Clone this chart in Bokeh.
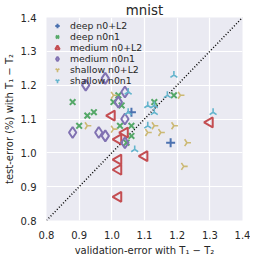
import math
from bokeh.plotting import figure
from bokeh.models import Legend, LegendItem, Range1d, FixedTicker, NumeralTickFormatter
from bokeh.embed import file_html
from bokeh.resources import INLINE

# deep n0+L2
deep_l2_x = [1.06, 1.18]
deep_l2_y = [1.12, 1.03]
# deep n0n1
deep_n1_x = [0.88, 0.925, 0.945, 1.005, 1.02, 1.03, 1.13, 1.19, 0.90, 1.025, 1.06, 1.06, 1.045]
deep_n1_y = [1.15, 1.11, 1.12, 1.15, 1.17, 1.14, 1.15, 1.17, 1.08, 1.08, 1.08, 1.05, 1.03]
# medium n0+L2
med_l2_x = [1.00, 1.30, 1.02, 1.04, 1.02, 1.02, 1.02, 1.10]
med_l2_y = [1.11, 1.09, 1.04, 1.06, 0.98, 0.95, 0.87, 0.99]
# medium n0n1
med_n1_x = [0.88, 0.92, 0.96, 0.98, 0.98, 1.02, 1.04, 1.04, 1.04]
med_n1_y = [1.06, 1.20, 1.06, 1.05, 1.22, 1.15, 1.18, 1.10, 1.03]
# shallow n0+L2
sh_l2_x = [0.925, 1.005, 1.005, 1.11, 1.13, 1.15, 1.19, 1.21, 1.23, 1.22]
sh_l2_y = [1.08, 1.17, 1.07, 1.06, 1.08, 1.06, 1.08, 1.17, 1.03, 0.96]
# shallow n0n1
sh_n1_x = [1.19, 1.17, 1.05, 1.05, 1.11, 1.13, 1.13, 1.31, 1.11, 1.07]
sh_n1_y = [1.23, 1.17, 1.18, 1.12, 1.14, 1.14, 1.12, 1.12, 1.08, 1.01]

ticks = [0.8, 0.9, 1.0, 1.1, 1.2, 1.3, 1.4]
diag = [0.8, 1.4]

BG = "#EAEAF2"
TXT = "#262626"
FONT = "DejaVu Sans"

p = figure(width=250, height=258, output_backend="svg", toolbar_location=None,
           x_range=Range1d(0.8, 1.4), y_range=Range1d(0.8, 1.4),
           min_border_left=31, min_border_right=8, min_border_top=13, min_border_bottom=27,
           title="mnist")
p.background_fill_color = BG
p.border_fill_color = "white"
p.outline_line_color = None
p.title.align = "center"
p.title.text_font = FONT
p.title.text_font_size = "10pt"
p.title.text_font_style = "normal"
p.title.text_color = TXT
p.title.standoff = 0

for ax in (p.xaxis, p.yaxis):
    ax.ticker = FixedTicker(ticks=ticks)
    ax.formatter = NumeralTickFormatter(format="0.0")
    ax.axis_line_color = None
    ax.major_tick_line_color = None
    ax.minor_tick_line_color = None
    ax.major_label_text_font = FONT
    ax.major_label_text_font_size = "7.5pt"
    ax.major_label_text_color = TXT
    ax.axis_label_text_font = FONT
    ax.axis_label_text_font_size = "7.5pt"
    ax.axis_label_text_font_style = "normal"
    ax.axis_label_text_color = TXT
    ax.major_label_standoff = 4
    ax.axis_label_standoff = 3
p.xaxis.axis_label = "validation-error with T\u2081 \u2212 T\u2082"
p.yaxis.axis_label = "test-error (%) with T\u2081 \u2212 T\u2082"

p.grid.grid_line_color = "white"
p.grid.grid_line_width = 1.2
p.xgrid.ticker = FixedTicker(ticks=ticks)
p.ygrid.ticker = FixedTicker(ticks=ticks)

p.line(diag, diag, line_color="black", line_width=1.5, line_dash="1 2")

r1 = p.scatter(deep_l2_x, deep_l2_y, marker="cross", size=9, line_color="#4C72B0", line_width=2)
r2 = p.scatter(deep_n1_x, deep_n1_y, marker="x", size=8, line_color="#55A868", line_width=2)
r3 = p.scatter(med_l2_x, med_l2_y, marker="triangle", size=10, angle=math.pi / 2,
               line_color="#C44E52", fill_color=None, line_width=2)
r4 = p.scatter(med_n1_x, med_n1_y, marker="diamond", size=11,
               line_color="#8172B2", fill_color=None, line_width=2)
r5 = p.scatter(sh_l2_x, sh_l2_y, marker="y", size=8, angle=math.pi / 2,
               line_color="#CCB974", line_width=1.6)
r6 = p.scatter(sh_n1_x, sh_n1_y, marker="y", size=8, angle=math.pi,
               line_color="#64B5CD", line_width=1.6)

legend = Legend(items=[
    LegendItem(label="deep n0+L2", renderers=[r1]),
    LegendItem(label="deep n0n1", renderers=[r2]),
    LegendItem(label="medium n0+L2", renderers=[r3]),
    LegendItem(label="medium n0n1", renderers=[r4]),
    LegendItem(label="shallow n0+L2", renderers=[r5]),
    LegendItem(label="shallow n0n1", renderers=[r6]),
], location="top_left")
legend.background_fill_alpha = 0
legend.border_line_color = None
legend.label_text_font = FONT
legend.label_text_font_size = "7pt"
legend.label_text_color = TXT
legend.glyph_width = 16
legend.glyph_height = 11
legend.label_height = 11
legend.spacing = 0
legend.padding = 2
legend.margin = 3
legend.label_standoff = 5
p.add_layout(legend)

open("out.html", "w").write(file_html(p, INLINE))
